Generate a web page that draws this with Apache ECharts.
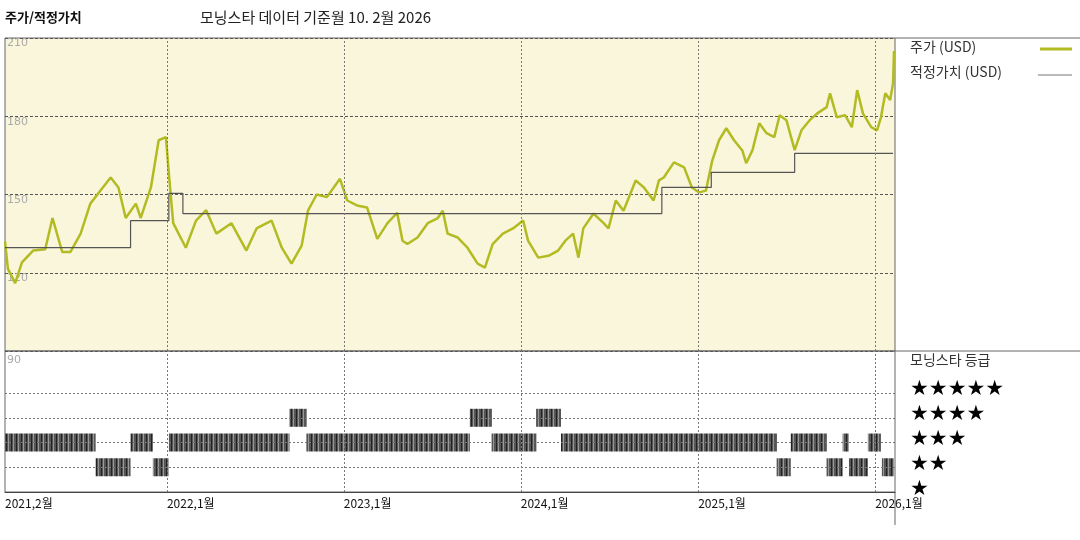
<!DOCTYPE html>
<html>
<head>
<meta charset="utf-8">
<script src="https://cdn.jsdelivr.net/npm/echarts@6/dist/echarts.min.js"></script>
<style>
  html, body { margin: 0; padding: 0; background: #fff; }
  #chart { width: 1080px; height: 540px; }
</style>
</head>
<body>
<div id="chart"></div>
<script>
// 주가 (USD)
const priceDates = [
  '2021-02-01','2021-02-07','2021-02-22','2021-03-08','2021-03-31','2021-04-25','2021-05-10','2021-05-30',
  '2021-06-16','2021-07-07','2021-07-27','2021-08-17','2021-09-07','2021-09-23','2021-10-08','2021-10-29',
  '2021-11-08','2021-11-29','2021-12-15','2021-12-30','2022-01-05','2022-01-14','2022-02-09','2022-03-02',
  '2022-03-23','2022-04-13','2022-05-14','2022-06-14','2022-07-05','2022-08-05','2022-08-26','2022-09-15',
  '2022-10-06','2022-10-19','2022-11-06','2022-11-27','2022-12-24','2023-01-08','2023-01-28','2023-02-18',
  '2023-03-11','2023-04-01','2023-04-21','2023-05-02','2023-05-12','2023-06-02','2023-06-23','2023-07-13',
  '2023-07-24','2023-08-03','2023-08-24','2023-09-13','2023-10-04','2023-10-19','2023-11-04','2023-11-25',
  '2023-12-16','2024-01-06','2024-01-16','2024-02-06','2024-02-27','2024-03-18','2024-04-02','2024-04-18',
  '2024-04-29','2024-05-09','2024-05-30','2024-06-20','2024-06-30','2024-07-15','2024-07-31','2024-08-25',
  '2024-09-11','2024-10-01','2024-10-12','2024-10-22','2024-11-12','2024-12-03','2024-12-19','2025-01-03',
  '2025-01-17','2025-01-30','2025-02-13','2025-02-28','2025-03-16','2025-04-02','2025-04-10','2025-04-23',
  '2025-05-07','2025-05-22','2025-06-07','2025-06-18','2025-07-02','2025-07-19','2025-08-02','2025-08-19',
  '2025-09-03','2025-09-23','2025-09-30','2025-10-14','2025-10-31','2025-11-14','2025-11-25','2025-12-07',
  '2025-12-24','2026-01-05','2026-01-13','2026-01-22','2026-02-01','2026-02-07','2026-02-09'
];
const priceValues = [
  132, 121.5, 116, 124, 128.5, 129, 141, 128,
  128, 135, 146.5, 151.5, 156.5, 152.7, 141, 146.5,
  141, 152.7, 170.8, 172, 158, 139, 129.6, 140,
  144, 135, 139, 128.5, 137, 140, 129.6, 123.5,
  130.4, 143.8, 150, 149, 156, 147.7, 145.8, 145,
  133, 139, 143, 132.3, 131, 133.5, 139, 140.8,
  143.8, 135, 133.5, 129.6, 123.5, 122, 131, 135,
  137, 140, 132.3, 125.8, 126.5, 128.5, 132.3, 135,
  125.8, 137, 142.7, 139, 137, 147.7, 143.8, 155.4,
  152.7, 147.7, 155.4, 156.5, 162.3, 160.4, 152.7, 150.8,
  151.5, 163, 170.8, 175.4, 170.8, 166.9, 162, 167,
  177.3, 173.5, 172, 180.4, 178.5, 167, 174.6, 178.5,
  181, 183.5, 188.8, 179.6, 180.4, 175.8, 190, 181,
  175.8, 174.6, 179.6, 188.8, 186.2, 192.7, 205
];

// 적정가치 (USD), step changes
const fairDates = ['2021-02-01','2021-10-18','2022-01-05','2022-02-03','2024-10-18','2025-01-28','2025-07-19','2026-02-07'];
const fairValues = [129.6, 140, 150.4, 142.7, 152.7, 158.5, 165.8, 165.8];

// 모닝스타 등급 periods
const ratingStart = ['2021-02-01','2021-08-07','2021-10-18','2021-12-03','2022-01-05','2022-09-11','2022-10-16','2023-09-18',
  '2023-11-02','2024-02-02','2024-03-24','2025-06-12','2025-07-11','2025-09-23','2025-10-26','2025-11-08','2025-12-17','2026-01-15'];
const ratingEnd = ['2021-08-07','2021-10-18','2021-12-03','2022-01-05','2022-09-11','2022-10-16','2023-09-18','2023-11-02',
  '2024-02-02','2024-03-24','2025-06-12','2025-07-11','2025-09-23','2025-10-26','2025-11-08','2025-12-17','2026-01-13','2026-02-09'];
const ratingStars = [3, 2, 3, 2, 3, 4, 3, 4, 3, 4, 3, 2, 3, 2, 3, 2, 3, 2];

const yearTicks = ['2021-02-01', '2022-01-01', '2023-01-01', '2024-01-01', '2025-01-01', '2026-01-01'];
const xMin = '2021-02-01';
const xMax = '2026-02-11';

const ts = d => new Date(d + 'T00:00:00Z').getTime();

// striped fill like the original bars
const pat = document.createElement('canvas');
pat.width = 5; pat.height = 2;
const pctx = pat.getContext('2d');
pctx.fillStyle = '#555'; pctx.fillRect(0, 0, 5, 2);
pctx.fillStyle = '#222'; pctx.fillRect(1, 0, 1, 2);
pctx.fillStyle = '#999'; pctx.fillRect(3, 0, 1, 2);

const dashed = { type: [3, 2], color: '#555', width: 1 };
const yearLines = {
  silent: true, symbol: 'none', label: { show: false },
  lineStyle: { type: [2, 2], color: '#777', width: 1 },
  data: yearTicks.slice(1).map(d => ({ xAxis: ts(d) }))
};

const chart = echarts.init(document.getElementById('chart'));
chart.setOption({
  animation: false,
  textStyle: { fontFamily: 'Noto Sans CJK KR' },
  grid: [
    { left: 5, right: 185, top: 38, height: 313, backgroundColor: '#faf6db', show: true, borderColor: '#666', borderWidth: 1 },
    { left: 5, right: 185, top: 351, height: 141, show: true, borderColor: '#666', borderWidth: 1 }
  ],
  xAxis: [
    { type: 'value', gridIndex: 0, min: ts(xMin), max: ts(xMax),
      axisLabel: { show: false }, axisTick: { show: false }, axisLine: { show: false }, splitLine: { show: false } },
    { type: 'value', gridIndex: 1, min: ts(xMin), max: ts(xMax),
      axisLine: { show: true, onZero: false, lineStyle: { color: '#444' } }, axisTick: { show: false }, splitLine: { show: false },
      axisLabel: {
        customValues: yearTicks.map(ts), align: 'left', margin: 5, color: '#111', fontSize: 12,
        showMinLabel: true, showMaxLabel: true,
        formatter: v => { const d = new Date(v); return d.getUTCFullYear() + ',' + (d.getUTCMonth() + 1) + '월'; }
      } }
  ],
  yAxis: [
    { type: 'value', gridIndex: 0, min: 90, max: 210, interval: 30,
      axisLine: { show: false }, axisTick: { show: false },
      axisLabel: { inside: true, verticalAlign: 'top', margin: 2, color: '#aaa', fontSize: 11, fontFamily: 'DejaVu Sans', showMinLabel: false },
      splitLine: { lineStyle: dashed } },
    { type: 'value', gridIndex: 1, min: 1, max: 6.7,
      axisLine: { show: false }, axisTick: { show: false }, axisLabel: { show: false }, splitLine: { show: false } }
  ],
  series: [
    { name: '주가 (USD)', type: 'line', xAxisIndex: 0, yAxisIndex: 0, symbol: 'none',
      lineStyle: { color: '#b3bb22', width: 2.5 },
      data: priceDates.map((d, i) => [ts(d), priceValues[i]]),
      markLine: yearLines },
    { name: '적정가치 (USD)', type: 'line', step: 'end', xAxisIndex: 0, yAxisIndex: 0, symbol: 'none',
      lineStyle: { color: '#555', width: 1.2 },
      data: fairDates.map((d, i) => [ts(d), fairValues[i]]) },
    { name: '모닝스타 등급', type: 'custom', xAxisIndex: 1, yAxisIndex: 1,
      data: ratingStars.map((s, i) => [ts(ratingStart[i]), ts(ratingEnd[i]), s]),
      encode: { x: [0, 1], y: 2 },
      renderItem: (params, api) => {
        const a = api.coord([api.value(0), api.value(2)]);
        const b = api.coord([api.value(1), api.value(2)]);
        return { type: 'rect', shape: { x: a[0], y: a[1] - 9, width: b[0] - a[0], height: 18 },
          style: { fill: { image: pat, repeat: 'repeat' } } };
      },
      markLine: {
        silent: true, symbol: 'none', label: { show: false },
        lineStyle: { type: [2, 2], color: '#777', width: 1 },
        data: [2, 3, 4, 5].map(v => ({ yAxis: v })).concat(yearTicks.slice(1).map(d => ({ xAxis: ts(d) })))
      } }
  ],
  graphic: [
    { type: 'text', left: 5, top: 11, style: { text: '주가/적정가치', font: 'bold 13px "Noto Sans CJK KR"', fill: '#111' } },
    { type: 'text', left: 200, top: 10, style: { text: '모닝스타 데이터 기준월 10. 2월 2026', font: '15px "Noto Sans CJK KR"', fill: '#222' } },
    { type: 'text', left: 7, top: 355, style: { text: '90', font: '11px "DejaVu Sans"', fill: '#aaa' } },
    { type: 'line', shape: { x1: 895, y1: 38, x2: 1080, y2: 38 }, style: { stroke: '#666' } },
    { type: 'line', shape: { x1: 895, y1: 351, x2: 1080, y2: 351 }, style: { stroke: '#666' } },
    { type: 'line', shape: { x1: 895, y1: 492, x2: 895, y2: 525 }, style: { stroke: '#666' } },
    { type: 'text', left: 910, top: 40, style: { text: '주가 (USD)', font: '14px "Noto Sans CJK KR"', fill: '#333' } },
    { type: 'line', shape: { x1: 1040, y1: 49, x2: 1072, y2: 49 }, style: { stroke: '#b3bb22', lineWidth: 3 } },
    { type: 'text', left: 910, top: 65, style: { text: '적정가치 (USD)', font: '14px "Noto Sans CJK KR"', fill: '#333' } },
    { type: 'line', shape: { x1: 1038, y1: 75, x2: 1072, y2: 75 }, style: { stroke: '#777', lineWidth: 1 } },
    { type: 'text', left: 910, top: 353, style: { text: '모닝스타 등급', font: '14px "Noto Sans CJK KR"', fill: '#333' } },
    ...['★★★★★', '★★★★', '★★★', '★★', '★'].map((s, i) => ({
      type: 'text', left: 910, top: 379 + i * 25, style: { text: s, font: '21px "DejaVu Sans"', fill: '#000' }
    }))
  ]
});
</script>
</body>
</html>
